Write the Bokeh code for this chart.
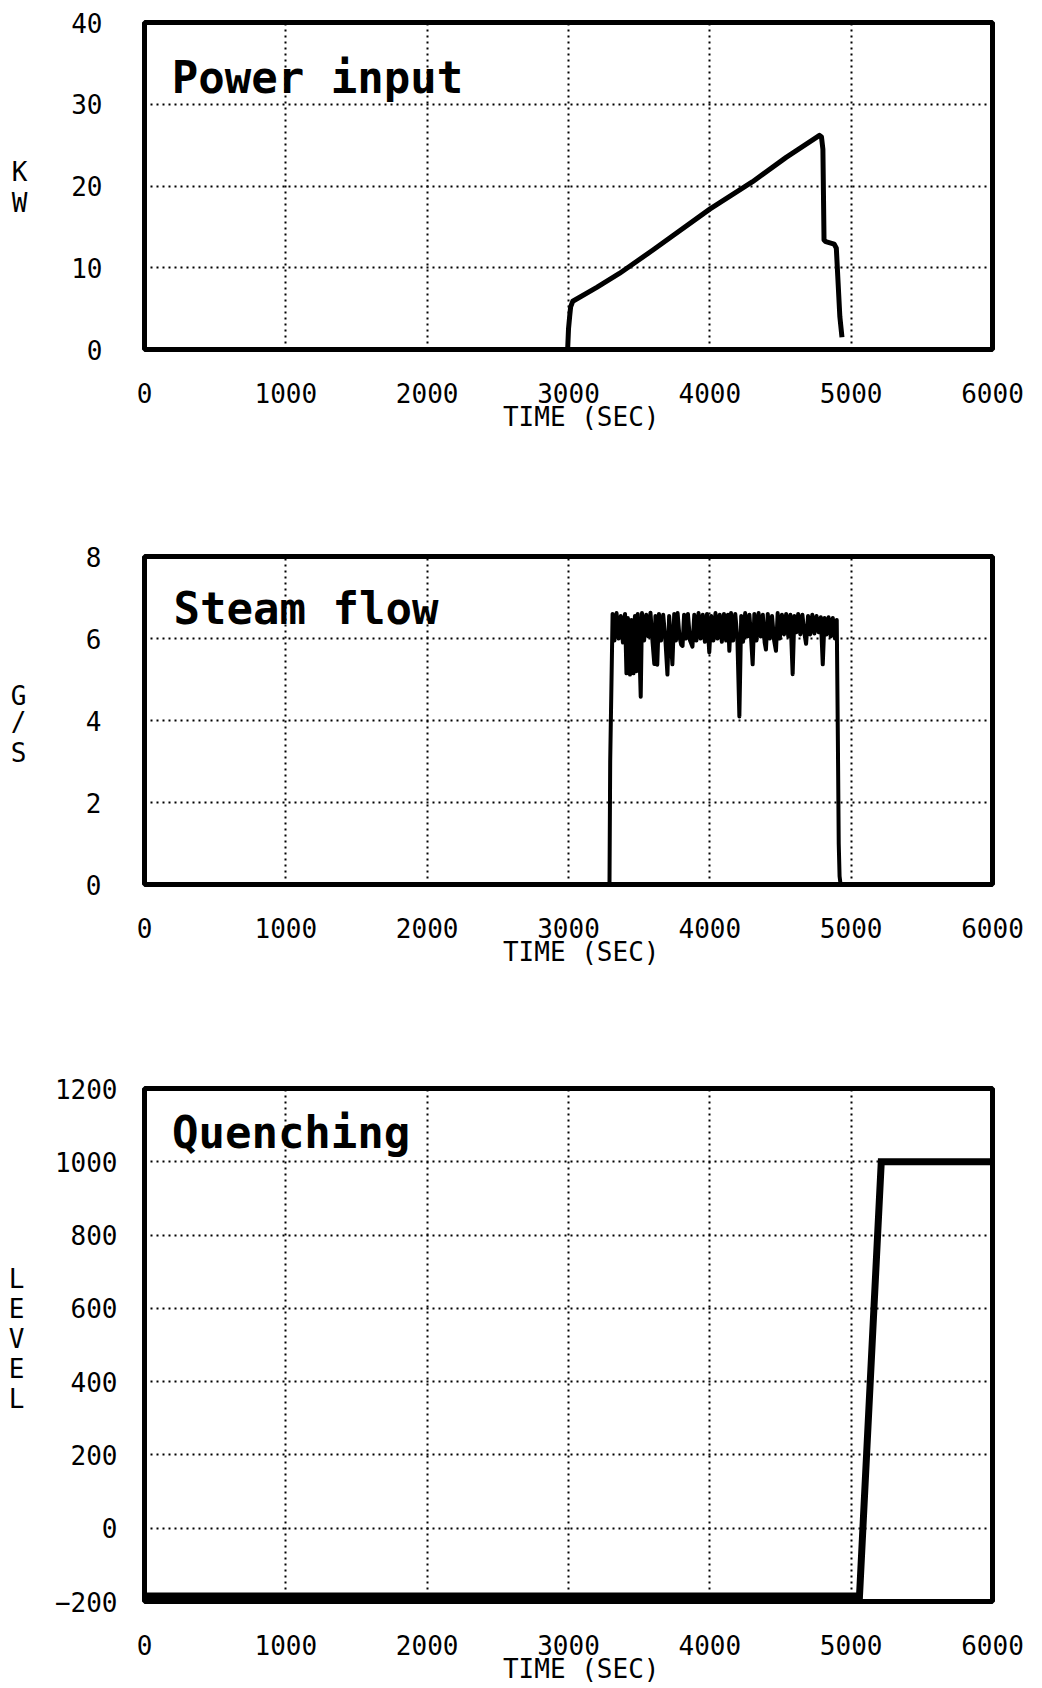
from bokeh.plotting import figure
from bokeh.models import Range1d, FixedTicker, Label, LinearAxis
from bokeh.layouts import column
from bokeh.embed import file_html
from bokeh.resources import INLINE

FONT = "DejaVu Sans Mono"

# ---------------- data ----------------
time_ticks = [0, 1000, 2000, 3000, 4000, 5000, 6000]

power_ticks = [0, 10, 20, 30, 40]
power_t = [0, 2994, 3000, 3008, 3015, 3030, 3200, 3360, 3600, 4002, 4300,
           4540, 4776, 4790, 4800, 4808, 4820, 4880, 4895, 4905, 4920, 4935]
power_kw = [0, 0, 2.5, 4.0, 5.2, 5.9, 7.6, 9.3, 12.2, 17.2, 20.5,
            23.5, 26.2, 26.0, 24.5, 13.4, 13.2, 12.9, 12.4, 9.0, 4.0, 1.5]

steam_ticks = [0, 2, 4, 6, 8]
steam_t = [0, 3290, 3295, 3312, 3325, 3340, 3355, 3370, 3385, 3400, 3410,
           3420, 3435, 3445, 3460, 3470, 3480, 3490, 3500, 3511, 3520, 3535,
           3550, 3565, 3580, 3595, 3607, 3615, 3628, 3640, 3655, 3670, 3685,
           3700, 3712, 3725, 3735, 3748, 3760, 3772, 3785, 3797, 3807, 3818,
           3832, 3845, 3860, 3877, 3890, 3905, 3920, 3935, 3950, 3965, 3980,
           3996, 4010, 4025, 4040, 4055, 4070, 4085, 4100, 4115, 4128, 4138,
           4150, 4165, 4180, 4195, 4209, 4222, 4235, 4250, 4265, 4280, 4292,
           4303, 4315, 4330, 4345, 4360, 4375, 4388, 4397, 4410, 4425, 4440,
           4455, 4468, 4480, 4495, 4510, 4525, 4540, 4555, 4570, 4586, 4598,
           4612, 4625, 4640, 4655, 4668, 4681, 4695, 4710, 4725, 4740, 4755,
           4770, 4785, 4799, 4812, 4825, 4840, 4855, 4870, 4885, 4898, 4906,
           4912, 4918, 4925, 6000]
steam_gs = [0, 0, 3.0, 6.60, 5.95, 6.62, 6.00, 6.55, 5.90, 6.60, 5.15,
            6.50, 5.12, 6.45, 5.15, 6.55, 5.20, 6.60, 5.95, 4.58, 6.62, 5.95,
            6.58, 6.05, 6.63, 5.90, 5.38, 6.55, 5.36, 6.60, 5.95, 6.58, 6.00,
            5.12, 6.55, 5.95, 5.37, 6.60, 5.95, 6.62, 6.05, 5.85, 5.82, 6.58,
            6.00, 6.60, 5.95, 5.80, 6.58, 5.95, 6.62, 6.00, 6.58, 5.92, 6.60,
            5.66, 6.55, 5.95, 6.62, 6.00, 6.58, 5.92, 6.60, 5.95, 6.58, 5.70,
            6.62, 5.95, 6.60, 6.00, 4.10, 6.55, 5.92, 6.62, 6.05, 6.58, 6.00,
            5.37, 6.60, 5.95, 6.62, 6.05, 6.58, 5.90, 5.73, 6.60, 6.00, 6.55,
            5.95, 5.70, 6.62, 6.00, 6.58, 6.10, 6.60, 6.05, 6.58, 5.13, 6.55,
            6.15, 6.60, 6.10, 6.58, 6.15, 5.87, 6.55, 6.10, 6.58, 6.12, 6.55,
            6.15, 6.52, 5.37, 6.50, 6.10, 6.52, 6.05, 6.50, 6.00, 6.45, 3.5,
            1.0, 0.2, 0.0, 0.0]

level_ticks = [-200, 0, 200, 400, 600, 800, 1000, 1200]
level_t = [0, 5059, 5213, 6000]
level_v = [-185, -185, 1000, 1000]

x_title = "TIME (SEC)"
x_title_at = 3090
power_units = "KW"
steam_units = "G/S"
level_units = "LEVEL"


def style_axis(ax, standoff):
    ax.axis_line_color = None
    ax.major_tick_line_color = None
    ax.minor_tick_line_color = None
    ax.major_tick_out = 0
    ax.major_tick_in = 0
    ax.major_label_standoff = standoff
    ax.major_label_text_font = FONT
    ax.major_label_text_font_size = "26px"
    ax.major_label_text_color = "black"


def make_panel(xr, yr, yticks, fh, top, bottom, ystand):
    p = figure(frame_width=848, frame_height=fh,
               min_border_left=144, min_border_right=42,
               min_border_top=top, min_border_bottom=bottom,
               x_range=xr, y_range=yr,
               toolbar_location=None, output_backend="svg")
    p.background_fill_color = "white"
    p.border_fill_color = "white"
    p.outline_line_color = "black"
    p.outline_line_width = 5
    p.xaxis.ticker = FixedTicker(ticks=time_ticks)
    p.yaxis.ticker = FixedTicker(ticks=yticks)
    style_axis(p.xaxis[0], 33)
    style_axis(p.yaxis[0], ystand)
    # x-axis title as a second, label-only axis below the tick labels
    xt = LinearAxis(ticker=FixedTicker(ticks=[x_title_at]),
                    major_label_overrides={x_title_at: x_title})
    style_axis(xt, -4)
    p.add_layout(xt, "below")
    for g in (p.xgrid, p.ygrid):
        g.grid_line_color = "black"
        g.grid_line_width = 2
        g.grid_line_dash = "2 4"
    return p


def add_units(p, fh, letters, px_from_bottom, standoff):
    """Stacked upright unit letters, drawn as an extra left axis whose
    range is the frame height in pixels."""
    p.extra_y_ranges = {"px": Range1d(0, fh)}
    ax = LinearAxis(y_range_name="px",
                    ticker=FixedTicker(ticks=px_from_bottom),
                    major_label_overrides={k: ch for k, ch in zip(px_from_bottom, letters)})
    style_axis(ax, standoff)
    p.add_layout(ax, "left")


def add_title(p, x, y, text):
    p.add_layout(Label(x=x, y=y, text=text, text_font=FONT,
                       text_font_size="44px", text_color="black",
                       text_font_style="bold",
                       text_baseline="alphabetic", text_align="left"))


# Panel 1: Power input
p1 = make_panel(Range1d(0, 6000), Range1d(0, 40), power_ticks, 327, 22, 100, 42)
p1.line(power_t, power_kw, line_color="black", line_width=5, line_join="round")
add_title(p1, 193, 33.3, "Power input")
add_units(p1, 327, list(power_units), [178, 147], 41)

# Panel 2: Steam flow
p2 = make_panel(Range1d(0, 6000), Range1d(0, 8), steam_ticks, 328, 107, 100, 43)
p2.line(steam_t, steam_gs, line_color="black", line_width=4, line_join="round")
add_title(p2, 206, 6.74, "Steam flow")
add_units(p2, 328, list(steam_units), [189, 163, 132], 56)

# Panel 3: Quenching
p3 = make_panel(Range1d(0, 6000), Range1d(-200, 1200), level_ticks, 513, 104, 85, 27)
p3.line(level_t, level_v, line_color="black", line_width=7, line_join="miter")
add_title(p3, 194, 1079, "Quenching")
add_units(p3, 513, list(level_units), [323, 293, 263, 233, 203], 27)

layout = column(p1, p2, p3, spacing=0)
open("out.html", "w").write(file_html(layout, INLINE))
